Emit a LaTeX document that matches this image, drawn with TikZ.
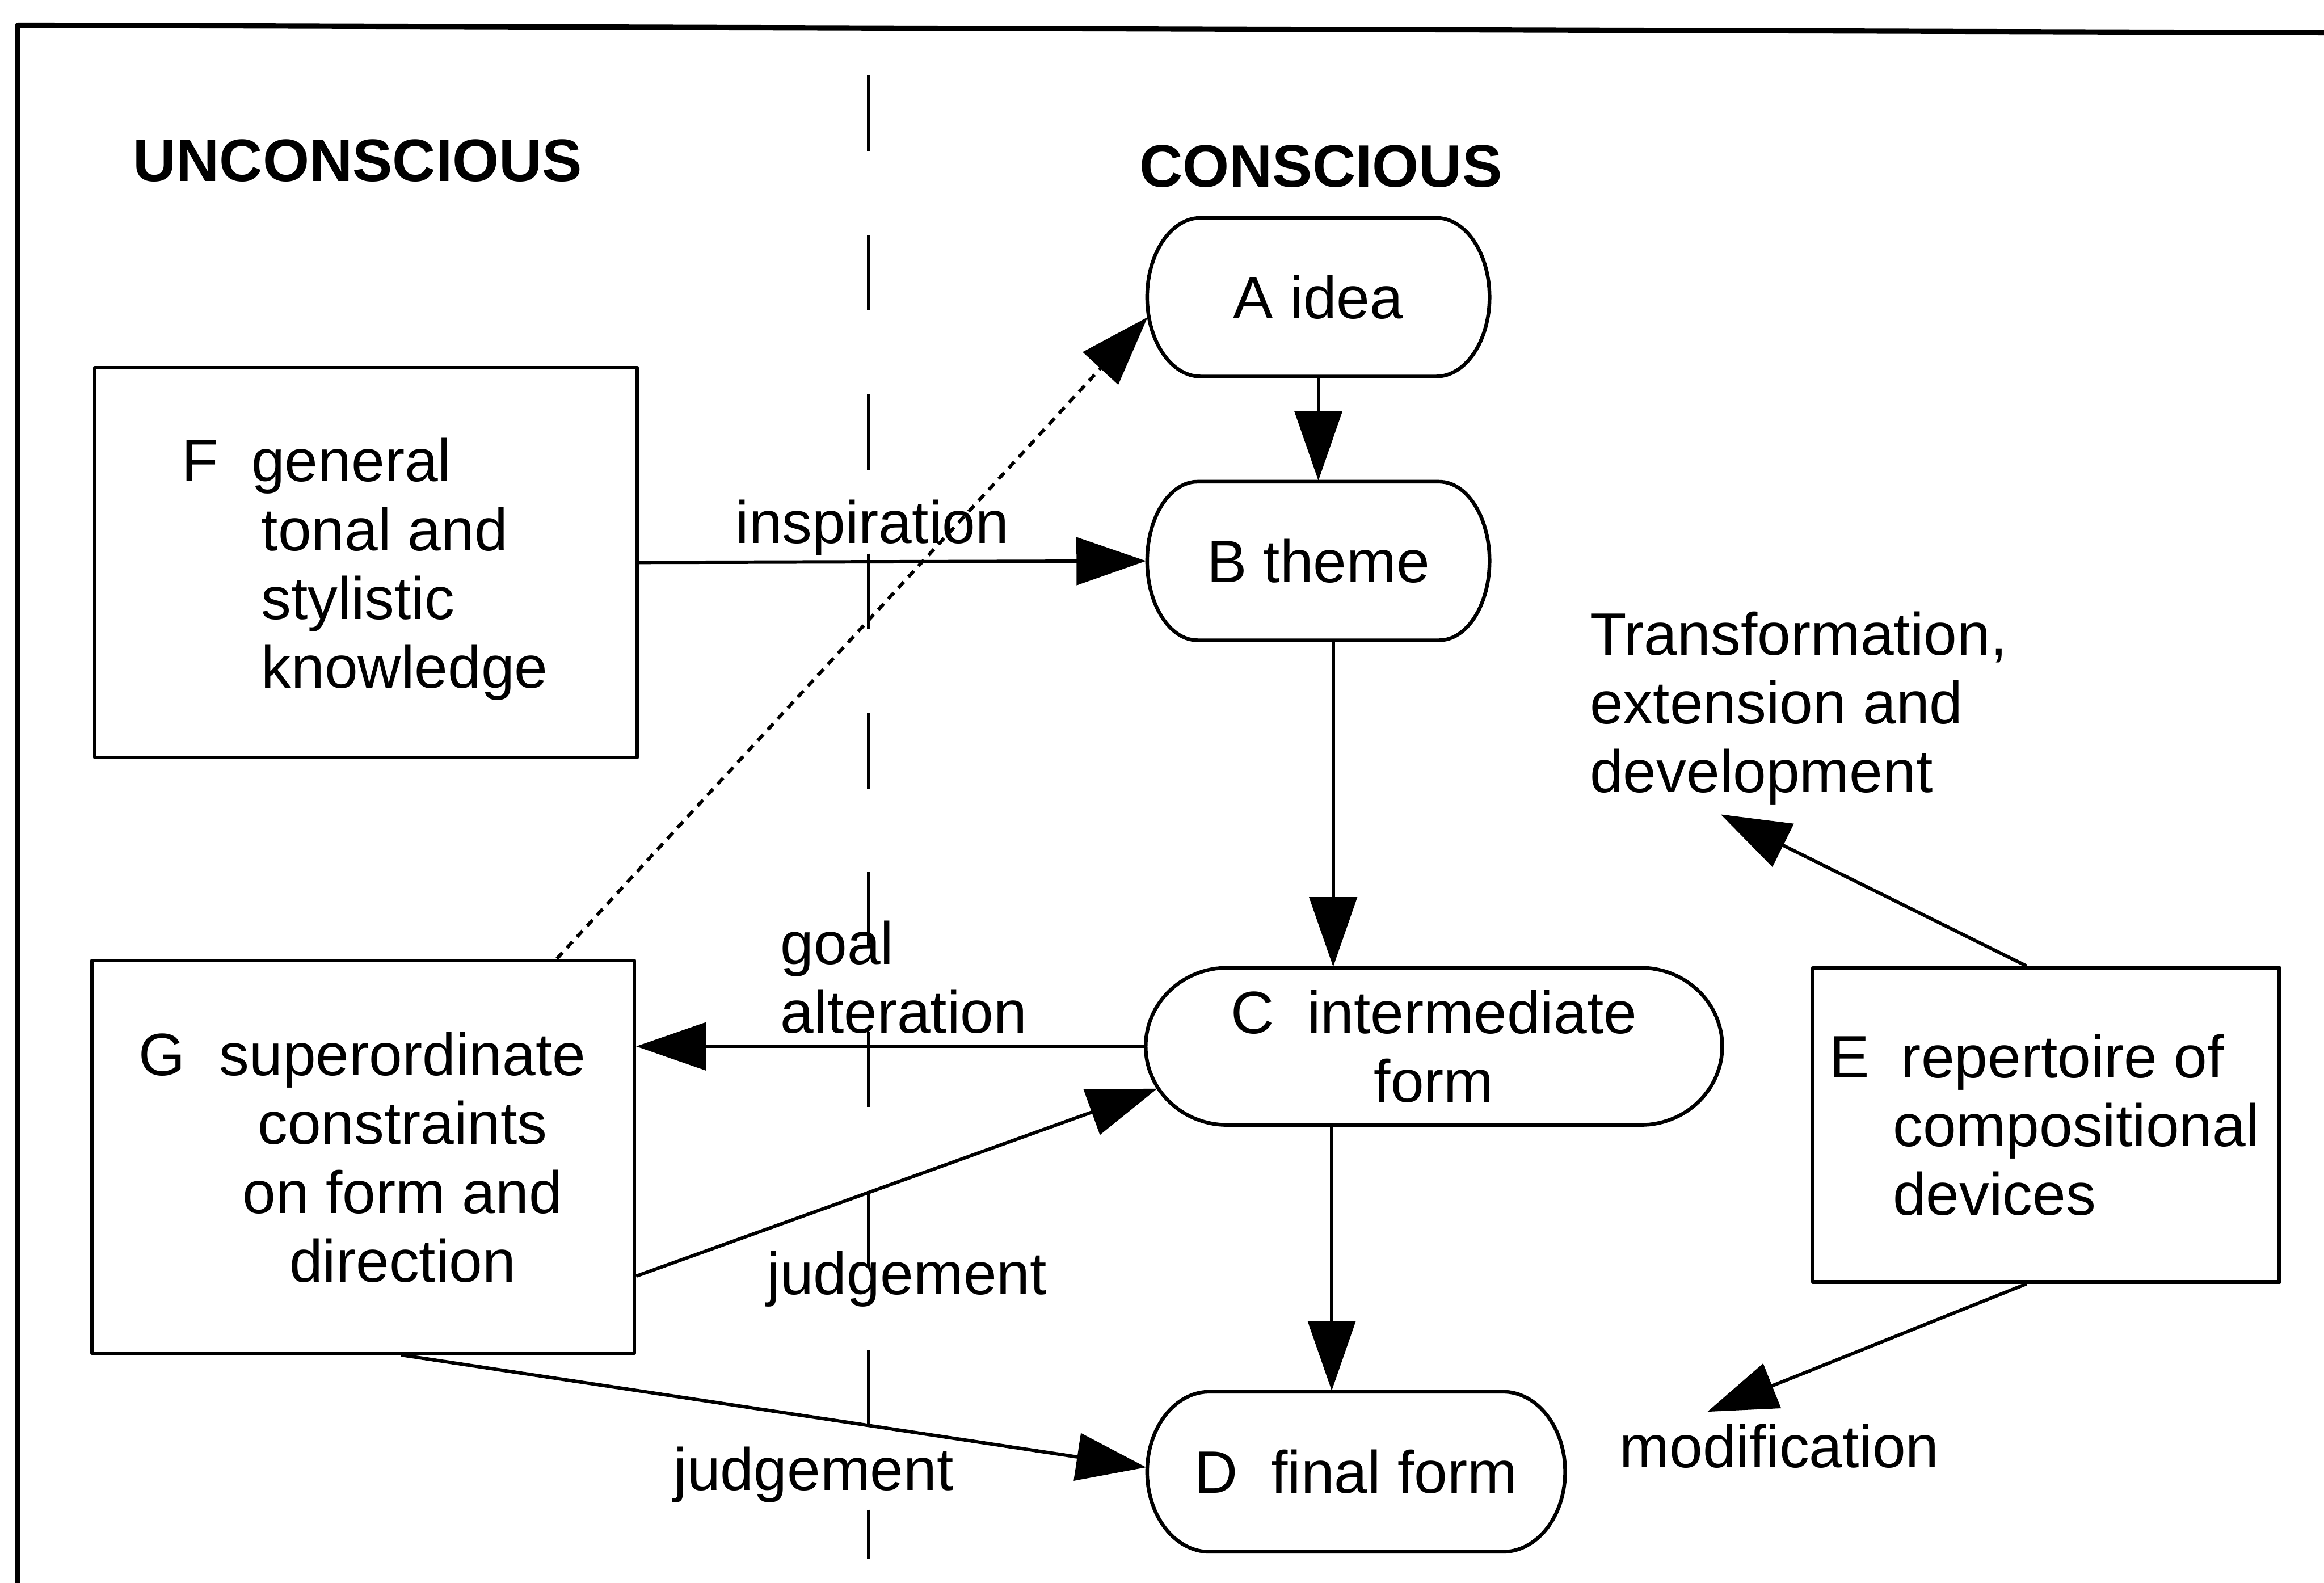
\documentclass[tikz,border=0pt]{standalone}
\usepackage{fontspec}
\setmainfont{Liberation Sans}
\usetikzlibrary{arrows.meta,calc}

% body text size used throughout the chart
\newcommand\txtfont{\fontsize{11.5pt}{13.2pt}\selectfont}

% pill outline round a named node: name, half width, half height, end radius
\newcommand\pillpath[4]{%
  \draw[outline] ($(#1.center)+(-#2+#4,-#3)$) -- ($(#1.center)+(#2-#4,-#3)$)
    arc[start angle=90,end angle=-90,x radius=#4*0.1mm,y radius=#3*0.1mm]
    -- ($(#1.center)+(-#2+#4,#3)$)
    arc[start angle=270,end angle=90,x radius=#4*0.1mm,y radius=#3*0.1mm] -- cycle;}

\begin{document}
\begin{tikzpicture}[x=0.1mm,y=-0.1mm,line join=round,
  outline/.style={line width=0.7pt},
  box/.style={draw,line width=0.7pt,rectangle,inner sep=0pt},
  pill/.style={rectangle,inner sep=0pt,align=center,font=\txtfont},
  lbl/.style={inner sep=0pt,anchor=base west,font=\txtfont},
  conn/.style={line width=0.65pt,-{Triangle[length=4.7mm,width=3.2mm]}},
  dotconn/.style={conn,dash pattern=on 0.55mm off 0.45mm},
]
\useasboundingbox (0,0) rectangle (1568,1068);

% frame (top and left edges)
\draw[line width=1pt] (12,1068) -- (12,17) -- (1568,22);

% divider between the two regions
\draw[line width=0.5pt,dash pattern=on 5.1mm off 5.65mm] (586,51) -- (586,1052);

% headings
\node[lbl,font=\txtfont\bfseries] (unc) at (89,122.5) {UNCONSCIOUS};
\node[lbl,font=\txtfont\bfseries] (con) at (768,126) {CONSCIOUS};

% stages of the process
\node[pill,minimum width=23.1mm,minimum height=10.7mm] (A) at (889.5,200.5) {A idea};
\node[pill,minimum width=23.1mm,minimum height=10.7mm] (B) at (889.5,378.5) {B theme};
\node[pill,minimum width=38.9mm,minimum height=10.6mm] (C) at (967.5,706) {C~~intermediate\\form};
\node[pill,minimum width=28.2mm,minimum height=10.8mm] (D) at (915,993) {D~~final form};
\pillpath{A}{115.5}{53.5}{36}
\pillpath{B}{115.5}{53.5}{34}
\pillpath{C}{194.5}{53}{55}
\pillpath{D}{141}{54}{42}

% knowledge sources
\node[box,minimum width=36.6mm,minimum height=26.3mm] (F) at (247,379.5) {};
\node[box,minimum width=36.6mm,minimum height=26.5mm] (G) at (245,780.5) {};
\node[box,minimum width=31.5mm,minimum height=21.2mm] (E) at (1380.5,759) {};

\node[lbl] (Ftxt) at (122,325) {\begin{tabular}[t]{@{}l@{\hspace{2.9mm}}l@{}}
  F & \hspace*{-0.67mm}general\\ & tonal and\\ & stylistic\\ & knowledge\end{tabular}};
\node[lbl] (Gtxt) at (93,725.7) {\begin{tabular}[t]{@{}l@{\hspace{2.29mm}}c@{}}
  G & superordinate\\ & constraints\\ & on form and\\ & direction\end{tabular}};
\node[lbl] (Etxt) at (1233.5,727) {\begin{tabular}[t]{@{}l@{\hspace{1.6mm}}l@{}}
  E & \hspace*{0.56mm}repertoire of\\ & compositional\\ & devices\end{tabular}};

% outcome labels of E
\node[lbl] (Ttxt) at (1072,442) {\begin{tabular}[t]{@{}l@{}}
  Transformation,\\extension and\\development\end{tabular}};
\node[lbl] (modif) at (1092,990) {modification};
\coordinate (tipT) at (1161,549.5);
\coordinate (tipM) at (1152,952.5);

% connector labels
\node[lbl] (insp) at (495.7,366.5) {inspiration};
\node[lbl] (goal) at (526,650.6) {\begin{tabular}[t]{@{}l@{}}goal\\alteration\end{tabular}};
\node[lbl] (judgC) at (516.8,873.5) {judgement};
\node[lbl] (judgD) at (454,1005.4) {judgement};

% connectors
\draw[conn] (A.south) -- (B.north);
\draw[conn] ([xshift=1mm]B.south) -- ([xshift=1mm]B.south |- C.north);
\draw[conn] ([xshift=-6.9mm]C.south) -- ([xshift=-6.9mm]C.south |- D.north);
\draw[conn] (F.east) -- (B.west);
\draw[dotconn] ($(G.north west)+(315,0)$) -- ($(A.west)+(1,13.5)$);
\draw[conn] (C.west) -- (C.west -| G.east);
\draw[conn] ($(G.east)+(0,80.5)$) -- ($(C.west)+(8.5,28.5)$);
\draw[conn] ($(G.south west)+(210,0)$) -- ($(D.west)+(0,-3)$);
\draw[conn] ($(E.north west)+(145.5,0)$) -- (tipT);
\draw[conn] ($(E.south west)+(145.5,0)$) -- (tipM);
\end{tikzpicture}
\end{document}
